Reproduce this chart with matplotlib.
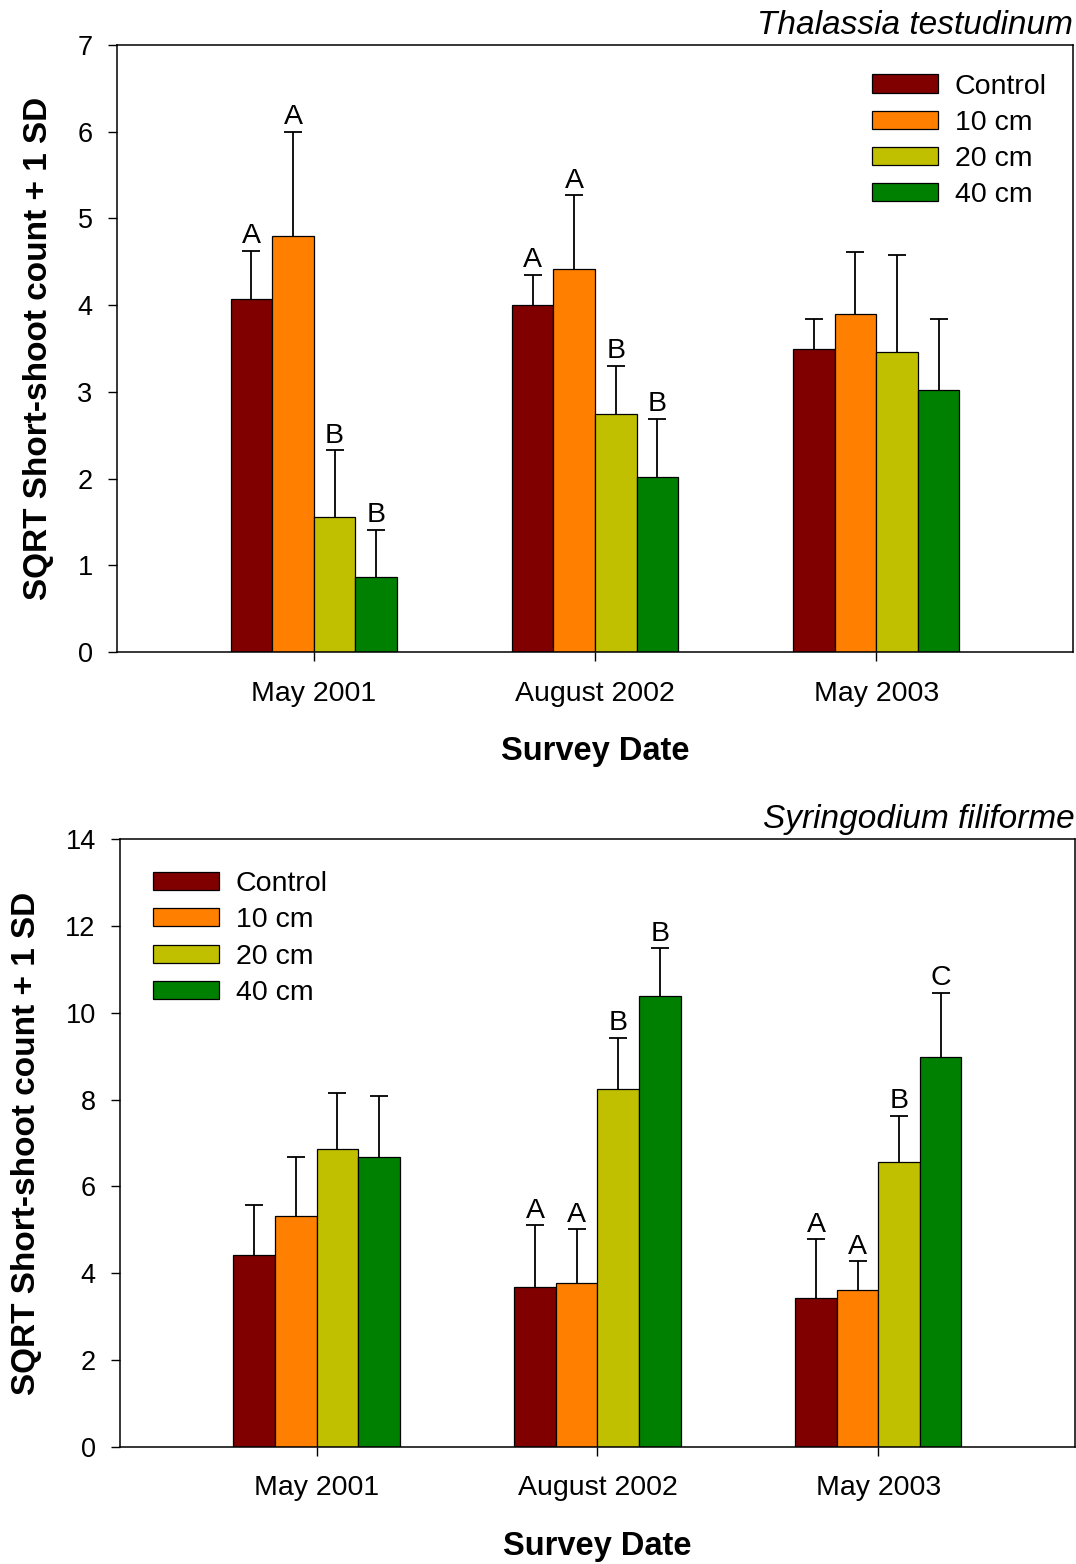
import numpy as np
import matplotlib
matplotlib.use('Agg')
import matplotlib.pyplot as plt

plt.rcParams['font.family'] = ['Liberation Sans', 'DejaVu Sans']

# Dados
dates = ['May 2001', 'August 2002', 'May 2003']
treatments = ['Control', '10 cm', '20 cm', '40 cm']
colors = ['#800000', '#FF8000', '#C0C000', '#008000']

# Thalassia testudinum (media e +1 SD)
thal_control = [4.07, 4.00, 3.49]
thal_10 = [4.80, 4.42, 3.90]
thal_20 = [1.56, 2.74, 3.46]
thal_40 = [0.86, 2.02, 3.02]
thal_sd_control = [0.56, 0.35, 0.35]
thal_sd_10 = [1.20, 0.85, 0.71]
thal_sd_20 = [0.77, 0.56, 1.12]
thal_sd_40 = [0.55, 0.67, 0.82]
thal_letters = [['A', 'A', ''], ['A', 'A', ''], ['B', 'B', ''], ['B', 'B', '']]

# Syringodium filiforme
syr_control = [4.41, 3.68, 3.42]
syr_10 = [5.31, 3.78, 3.62]
syr_20 = [6.86, 8.24, 6.56]
syr_40 = [6.68, 10.39, 8.97]
syr_sd_control = [1.17, 1.42, 1.37]
syr_sd_10 = [1.36, 1.23, 0.66]
syr_sd_20 = [1.29, 1.18, 1.07]
syr_sd_40 = [1.40, 1.10, 1.49]
syr_letters = [['', 'A', 'A'], ['', 'A', 'A'], ['', 'B', 'B'], ['', 'B', 'C']]


def draw_panel(ax, means, sds, letters, title, ymax, yticks, legend_anchor):
    x = np.arange(1, len(dates) + 1)
    w = 0.148
    for i, (m, s) in enumerate(zip(means, sds)):
        xi = x + (i - 1.5) * w
        ax.bar(xi, m, width=w, color=colors[i], edgecolor='black', linewidth=0.9,
               label=treatments[i], zorder=2)
        eb = ax.errorbar(xi, m, yerr=[np.zeros(len(s)), s], fmt='none', ecolor='black',
                         elinewidth=1.3, capsize=6.5, capthick=1.3, zorder=3)
        # so a barra de cima (+1 SD)
        eb[1][0].set_visible(False)
        for xx, mm, ss, lt in zip(xi, m, s, letters[i]):
            if lt:
                ax.annotate(lt, (xx, mm + ss), xytext=(0, 1), textcoords='offset points',
                            ha='center', va='bottom', fontsize=20.5)
    ax.set_xlim(0.3, 3.7)
    ax.set_ylim(0, ymax)
    ax.set_yticks(yticks)
    ax.set_xticks(x)
    ax.set_xticklabels(dates)
    ax.tick_params(axis='x', direction='out', length=6.5, width=1, labelsize=20.5, pad=14)
    ax.tick_params(axis='y', direction='out', length=6.5, width=1, labelsize=19.5, pad=11)
    for sp in ax.spines.values():
        sp.set_linewidth(1.1)
    ax.set_xlabel('Survey Date', fontsize=23.5, fontweight='bold', labelpad=21)
    ax.set_ylabel('SQRT Short-shoot count + 1 SD', fontsize=24, fontweight='bold', labelpad=17)
    ax.set_title(title, loc='right', fontsize=24, style='italic', pad=8)
    ax.legend(loc='upper left', bbox_to_anchor=legend_anchor, frameon=False, fontsize=20.5,
              handlelength=2.3, handleheight=0.6, handletextpad=0.6, labelspacing=0.36,
              borderpad=0, borderaxespad=0)


fig = plt.figure(figsize=(10.76, 15.64), dpi=100)
ax1 = fig.add_axes([0.1087, 0.5831, 0.8885, 0.3881])
ax2 = fig.add_axes([0.1115, 0.0748, 0.8875, 0.3888])

draw_panel(ax1,
           [thal_control, thal_10, thal_20, thal_40],
           [thal_sd_control, thal_sd_10, thal_sd_20, thal_sd_40],
           thal_letters, 'Thalassia testudinum', 7, range(0, 8), (0.79, 0.953))
draw_panel(ax2,
           [syr_control, syr_10, syr_20, syr_40],
           [syr_sd_control, syr_sd_10, syr_sd_20, syr_sd_40],
           syr_letters, 'Syringodium filiforme', 14, range(0, 15, 2), (0.035, 0.947))

plt.savefig('out.png', dpi=100)
